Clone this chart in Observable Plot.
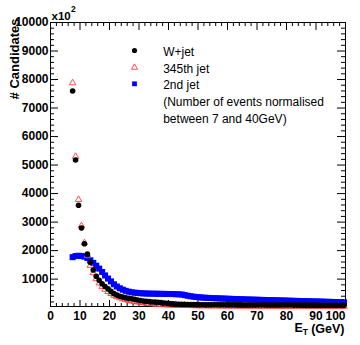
<!DOCTYPE html>
<html><head><meta charset="utf-8">
<script src="https://cdn.jsdelivr.net/npm/d3@7"></script>
<script src="https://cdn.jsdelivr.net/npm/@observablehq/plot@0.6"></script>
<style>
html,body{margin:0;padding:0;background:#fff;}
#chart{width:360px;height:345px;}
</style></head><body><div id="chart"></div>
<script>
// Bin centres (GeV)
const binCenters = [7.5,8.5,9.5,10.5,11.5,12.5,13.5,14.5,15.5,16.5,17.5,18.5,19.5,20.5,21.5,22.5,23.5,24.5,25.5,26.5,27.5,28.5,29.5,30.5,31.5,32.5,33.5,34.5,35.5,36.5,37.5,38.5,39.5,40.5,41.5,42.5,43.5,44.5,45.5,46.5,47.5,48.5,49.5,50.5,51.5,52.5,53.5,54.5,55.5,56.5,57.5,58.5,59.5,60.5,61.5,62.5,63.5,64.5,65.5,66.5,67.5,68.5,69.5,70.5,71.5,72.5,73.5,74.5,75.5,76.5,77.5,78.5,79.5,80.5,81.5,82.5,83.5,84.5,85.5,86.5,87.5,88.5,89.5,90.5,91.5,92.5,93.5,94.5,95.5,96.5,97.5,98.5,99.5];

// W+jet (black circles), units of 10^2
const wjet = [7600,5180,3590,2790,2240,1880,1590,1320,1100,960,
  840,740,660,570,490,440,400,370,345,325,
  310,290,270,250,235,222,210,200,195,190,
  175,160,150,140,132,125,120,116,113,110,
  108,106,105,
  104,103,102,102,101,100,100,99,99,98,
  98,97,97,96,96,95,95,95,94,94,
  93,93,93,92,92,92,91,91,91,90,
  90,90,89,89,89,88,88,88,87,87,
  87,86,86,86,85,85,85,84,84,84];

// 345th jet (open red triangles)
const jet345 = [7880,5300,3790,2870,2270,1820,1480,1220,1010,860,
  740,640,560,490,430,380,340,305,275,250,
  230,210,195,180,165,150,140,130,120,112,
  105,98,92,88,84,80,77,74,72,70,
  68,66,64,
  62,61,60,59,58,57,56,55,55,54,
  53,53,52,52,51,51,50,50,50,49,
  49,48,48,48,47,47,47,46,46,46,
  46,45,45,45,45,44,44,44,44,43,
  43,43,43,43,42,42,42,42,42,41];

// 2nd jet (blue squares)
const jet2nd = [1770,1810,1820,1810,1790,1740,1660,1570,1470,1370,
  1250,1130,1020,920,820,740,680,630,590,560,
  540,525,515,505,500,495,492,490,488,486,
  484,482,480,478,475,472,468,460,440,418,
  400,385,372,
  362,354,347,341,336,331,327,323,319,315,
  311,307,303,299,295,291,287,284,281,278,
  275,272,269,266,263,260,257,254,251,248,
  245,242,239,236,233,230,227,224,221,218,
  215,212,209,206,203,200,197,194,191,188];

const xMajor = [0,10,20,30,40,50,60,70,80,90,100];
const xMinor = [2,4,6,8,12,14,16,18,22,24,26,28,32,34,36,38,42,44,46,48,52,54,56,58,62,64,66,68,72,74,76,78,82,84,86,88,92,94,96,98];
const yMajor = [1000,2000,3000,4000,5000,6000,7000,8000,9000,10000];
const yMinor = [200,400,600,800,1200,1400,1600,1800,2200,2400,2600,2800,3200,3400,3600,3800,4200,4400,4600,4800,5200,5400,5600,5800,6200,6400,6600,6800,7200,7400,7600,7800,8200,8400,8600,8800,9200,9400,9600,9800];

const legendLabels = ["W+jet","345th jet","2nd jet","(Number of events normalised","between 7 and 40GeV)"];
const xTitle = ["E","T","(GeV)"];
const yTitle = "# Candidates";
const yExponent = ["x10","2"];

const W = 360, H = 345, mL = 50, mR = 15, mT = 22, mB = 39;
const fW = W - mL - mR, fH = H - mT - mB;

const rows = binCenters.map((x, i) => ({x, wjet: wjet[i], jet345: jet345[i], jet2nd: jet2nd[i]}));
const font = "'Liberation Sans', Arial, Helvetica, sans-serif";

const plot = Plot.plot({
  width: W, height: H,
  marginLeft: mL, marginRight: mR, marginTop: mT, marginBottom: mB,
  x: {domain: [0, 100], axis: null},
  y: {domain: [40, 10000], axis: null},
  style: {fontFamily: font, background: "#fff", color: "#000"},
  marks: [
    // ticks (inward, ROOT style)
    Plot.ruleX(xMajor, {x: d => d, insetTop: fH - 6, stroke: "#000"}),
    Plot.ruleX(xMinor, {x: d => d, insetTop: fH - 3, stroke: "#000"}),
    Plot.ruleX(xMajor, {x: d => d, insetBottom: fH - 8, stroke: "#000"}),
    Plot.ruleX(xMinor, {x: d => d, insetBottom: fH - 4, stroke: "#000"}),
    Plot.ruleY(yMajor, {y: d => d, insetRight: fW - 8, stroke: "#000"}),
    Plot.ruleY(yMinor, {y: d => d, insetRight: fW - 4, stroke: "#000"}),
    Plot.ruleY(yMajor, {y: d => d, insetLeft: fW - 8, stroke: "#000"}),
    Plot.ruleY(yMinor, {y: d => d, insetLeft: fW - 4, stroke: "#000"}),
    Plot.frame({stroke: "#000"}),
    // data
    Plot.dot(rows, {x: "x", y: "jet2nd", symbol: "square", r: 3.4, fill: "#0000ff", stroke: "none"}),
    Plot.dot(rows, {x: "x", y: "jet345", symbol: "triangle", r: 2.4, fill: "none", stroke: "#ff3b3b", strokeWidth: 0.9}),
    Plot.dot(rows, {x: "x", y: "wjet", r: 2.8, fill: "#000", stroke: "none"}),
    // tick labels
    Plot.text(xMajor.slice(0, -1), {x: d => d, frameAnchor: "bottom", dy: 9.5, text: d => String(d), fontSize: 12, fontWeight: "bold", lineAnchor: "middle"}),
    Plot.text(xMajor.slice(-1), {x: d => d, frameAnchor: "bottom", dy: 9.5, text: d => String(d), fontSize: 12, fontWeight: "bold", lineAnchor: "middle", textAnchor: "end"}),
    Plot.text(yMajor, {y: d => d, frameAnchor: "left", dx: -2, text: d => String(d), fontSize: 12, fontWeight: "bold", textAnchor: "end", lineAnchor: "middle"}),
    // exponent
    Plot.text([yExponent[0]], {frameAnchor: "top-left", dx: 1, dy: -6.5, textAnchor: "start", lineAnchor: "middle", fontSize: 11.5, fontWeight: "bold"}),
    Plot.text([yExponent[1]], {frameAnchor: "top-left", dx: 20.5, dy: -13.2, textAnchor: "start", lineAnchor: "middle", fontSize: 8.5, fontWeight: "bold"}),
    // axis titles
    Plot.text([yTitle], {frameAnchor: "top-left", dx: -36, dy: -4, rotate: -90, textAnchor: "end", lineAnchor: "middle", fontSize: 13, fontWeight: "bold"}),
    Plot.text([xTitle[0]], {frameAnchor: "bottom-right", dx: -51, dy: 21.5, textAnchor: "start", lineAnchor: "middle", fontSize: 12.5, fontWeight: "bold"}),
    Plot.text([xTitle[1]], {frameAnchor: "bottom-right", dx: -42.7, dy: 26, textAnchor: "start", lineAnchor: "middle", fontSize: 8.5, fontWeight: "bold"}),
    Plot.text([xTitle[2]], {frameAnchor: "bottom-right", dx: -1, dy: 22, textAnchor: "end", lineAnchor: "middle", fontSize: 12.5, fontWeight: "bold"}),
    // legend
    Plot.dot([0], {frameAnchor: "top-left", dx: 84, dy: 28, r: 2.6, fill: "#000", stroke: "none"}),
    Plot.dot([0], {frameAnchor: "top-left", dx: 84, dy: 45, symbol: "triangle", r: 2.3, fill: "none", stroke: "#ff3b3b", strokeWidth: 0.9}),
    Plot.dot([0], {frameAnchor: "top-left", dx: 84, dy: 61.3, symbol: "square", r: 2.7, fill: "#0000ff", stroke: "none"}),
    Plot.text([legendLabels.join("\n")], {frameAnchor: "top-left", dx: 112.7, dy: 61.65, textAnchor: "start", lineAnchor: "middle", lineHeight: 1.39, fontSize: 12})
  ]
});
document.getElementById("chart").appendChild(plot);
</script>
</body></html>
